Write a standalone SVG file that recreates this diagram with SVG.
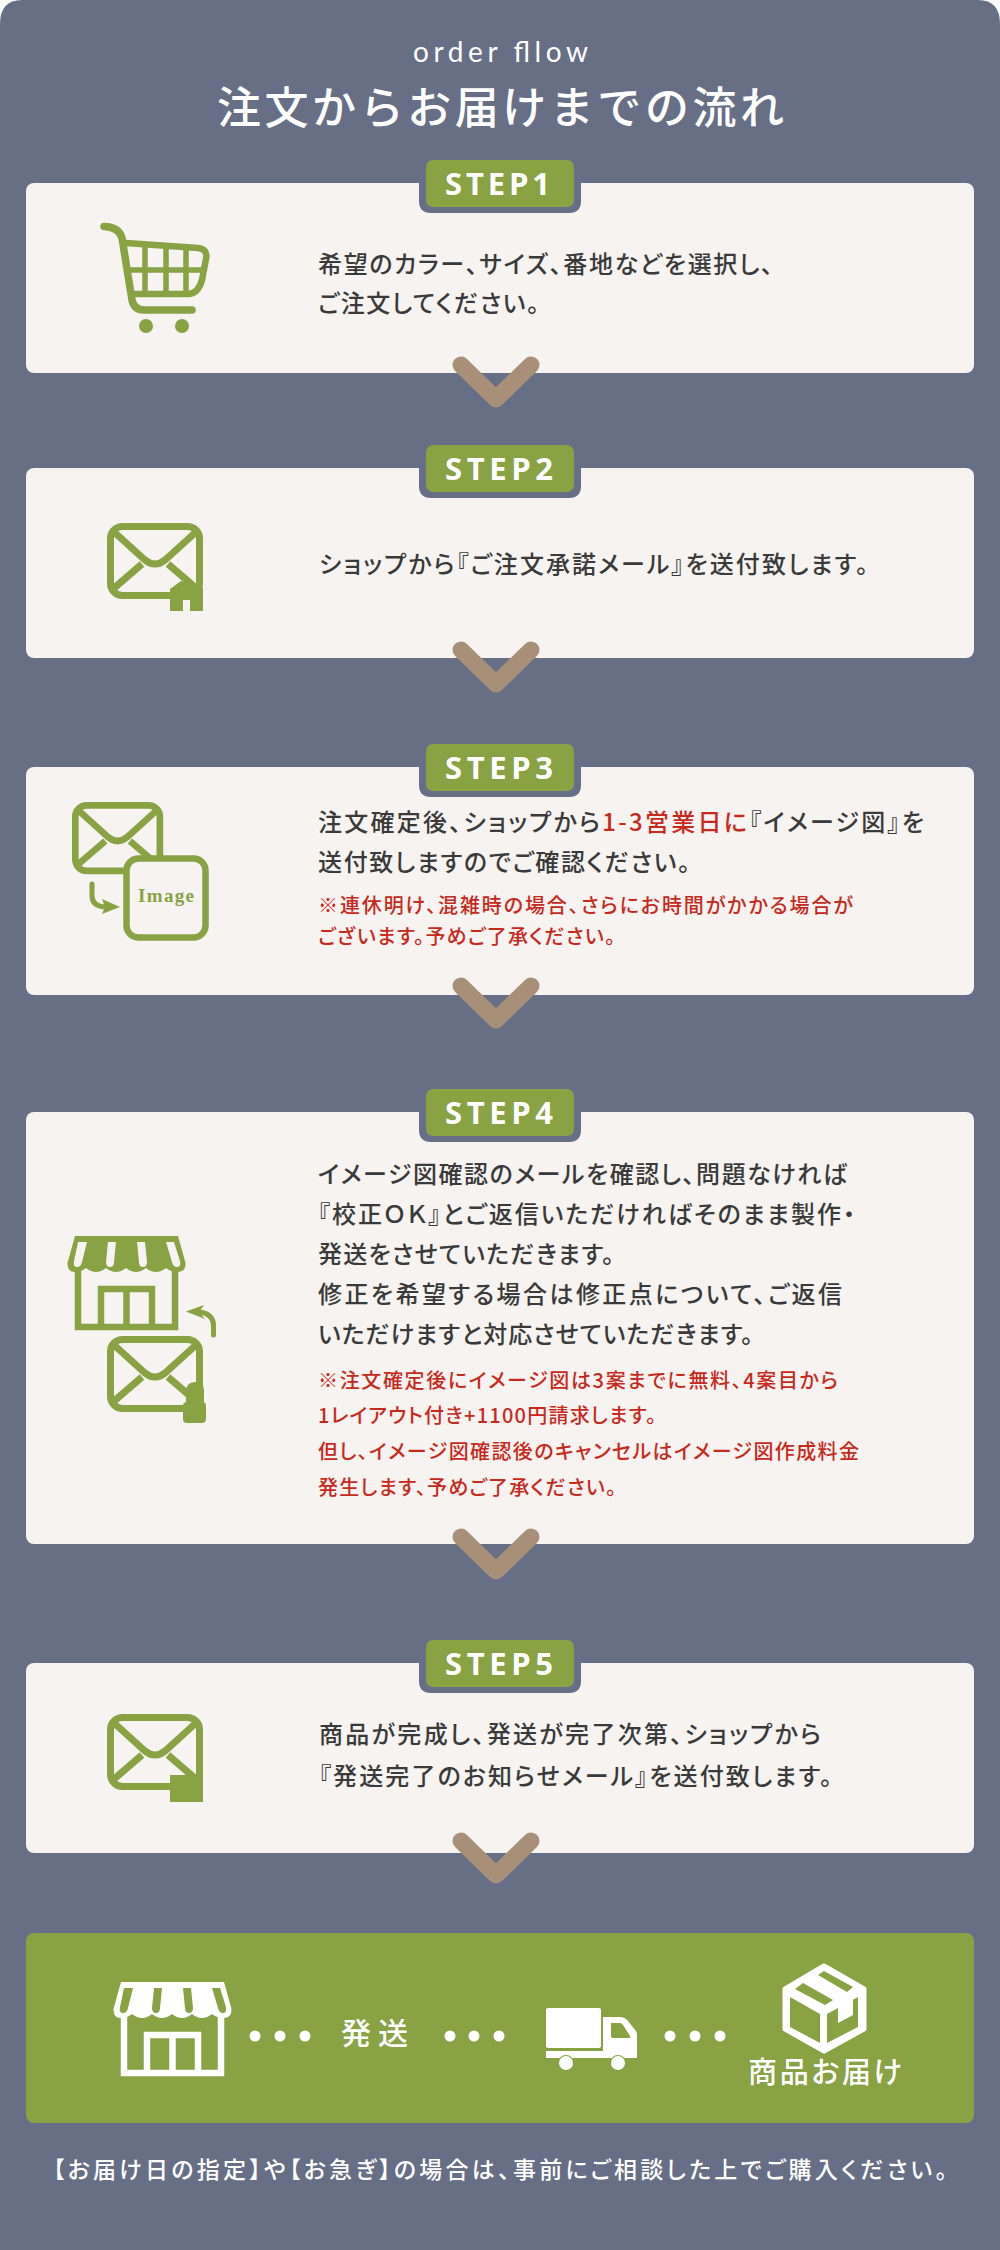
<svg xmlns="http://www.w3.org/2000/svg" xmlns:xlink="http://www.w3.org/1999/xlink" width="1000" height="2250" viewBox="0 0 1000 2250">
<style>
.t{font-family:"Noto Sans CJK JP","Noto Sans",sans-serif;font-feature-settings:"palt";font-size:24px;font-weight:500;fill:#3a3a3a}
.r{font-size:20px;fill:#c8291d}
.em{fill:#c8291d}
.w{fill:#fff}
.card{fill:#f6f3f0}
.badge{fill:#88a244}
.badgeo{fill:#676f87}
.st{font-family:"Open Sans","Noto Sans",sans-serif;font-weight:700;font-size:31px;fill:#fff}
.chev{fill:none;stroke:#a89078;stroke-width:17;stroke-linecap:round;stroke-linejoin:round}
.gs{fill:none;stroke:#88a244;stroke-linecap:round;stroke-linejoin:round}
.gf{fill:#88a244}
</style>
<defs>
<g id="env"><rect x="3.500" y="3.500" width="89" height="69" rx="12" fill="none" stroke="#88a244" stroke-width="7"/><path d="M6,8 L38,37 Q48,45 58,37 L90,8 M6,66 L35,41 M61,41 L90,66" fill="none" stroke="#88a244" stroke-width="7"/></g>
<g id="shop"><path fill-rule="evenodd" d="M8,0 L111,0 L118.500,27 Q119,36 110,36 Q104,36 99,32 Q89,40 79,32 Q69,40 59,32 Q49,40 39,32 Q29,40 19,32 Q14,36 8,36 Q0,36 .5,27 Z M11,6 L7,25 Q6,31 10,31 Q14,31 15,26 L20,6 Z M41,6 L39,26 Q39,31 43,31 Q47,31 47,26 L49,6 Z M70,6 L72,26 Q72,31 76,31 Q80,31 80,26 L78,6 Z M99,6 L105,26 Q106,31 110,31 Q114,31 113,25 L107,6 Z"/><path fill="none" stroke="currentColor" stroke-width="6.500" d="M11,33 V91 H108 V33 M34,91 V53 H85 V91 M59.500,53 V91"/></g>
</defs>
<rect width="1000" height="2250" fill="#fff"/>
<path d="M22,0 H978 Q1000,0 1000,24 V2250 H0 V24 Q0,0 22,0 Z" fill="#676f87"/>
<g id="title">
<text x="413" y="62" textLength="175" style="font-family:Lato,'Noto Sans',sans-serif;font-size:28px;fill:#fff">order fllow</text>
<text x="217" y="124" textLength="567" style="font-family:'Noto Sans CJK JP',sans-serif;font-size:44px;font-weight:500;fill:#fff">注文からお届けまでの流れ</text>
</g>

<g id="step1">
<rect class="card" x="26" y="183" width="948" height="190" rx="8"/>
<path class="badgeo" d="M419,183 H581 V201 Q581,213 569,213 H431 Q419,213 419,201 Z"/>
<rect class="badge" x="426" y="160" width="148" height="47" rx="7"/>
<text class="st" x="445" y="195" textLength="105">STEP1</text>
<g id="cart">
<path class="gs" stroke-width="7.500" d="M104,226.500 Q119,227 122,238 L132,300 Q134,310 144,310 L192,310"/>
<path class="gs" stroke-width="6.500" d="M126,243 L198,248 Q208,249 206,259 L202,280 Q198,294 188,294 L134,294"/>
<path class="gs" stroke-width="5.500" d="M145,244 V293 M166,246 V293 M186,247 V293 M129,270 H204"/>
<circle class="gf" cx="146" cy="326" r="7"/><circle class="gf" cx="182" cy="326" r="7"/>
</g>
<text class="t" x="318" y="273" textLength="455">希望のカラー、サイズ、番地などを選択し、</text>
<text class="t" x="318" y="312" textLength="221">ご注文してください。</text>
</g>

<g id="step2">
<rect class="card" x="26" y="468" width="948" height="190" rx="8"/>
<path class="badgeo" d="M419,468 H581 V486 Q581,498 569,498 H431 Q419,498 419,486 Z"/>
<rect class="badge" x="426" y="445" width="148" height="47" rx="7"/>
<text class="st" x="445" y="480" textLength="108">STEP2</text>
<use xlink:href="#env" href="#env" x="107" y="523"/>
<path class="gf" d="M170,589 L181,581 L203,588 V611 H190 V600 H183 V611 H170 Z"/>
<text class="t" x="319" y="573" textLength="549">ショップから『ご注文承諾メール』を送付致します。</text>
</g>

<g id="step3">
<rect class="card" x="26" y="767" width="948" height="228" rx="8"/>
<path class="badgeo" d="M419,767 H581 V785 Q581,797 569,797 H431 Q419,797 419,785 Z"/>
<rect class="badge" x="426" y="744" width="148" height="47" rx="7"/>
<text class="st" x="445" y="779" textLength="108">STEP3</text>
<use xlink:href="#env" href="#env" transform="translate(72,802) scale(.95)"/>
<rect x="126.500" y="858.500" width="79" height="79" rx="12" fill="#f6f3f0" stroke="#88a244" stroke-width="6.500"/>
<text x="138" y="902" textLength="56" style="font-family:'Liberation Serif',serif;font-weight:700;font-size:19px;fill:#88a244">Image</text>
<path class="gs" stroke-width="5" d="M92,884 V896 Q92,906 105,907"/>
<path class="gf" d="M120,907 L102,899 L105,907 L102,914 Z"/>
<text class="t" x="318" y="831" textLength="606">注文確定後、ショップから<tspan class="em">1-3営業日に</tspan>『イメージ図』を</text>
<text class="t" x="318" y="871" textLength="372">送付致しますのでご確認ください。</text>
<text class="t r" x="318" y="913" textLength="535">※連休明け、混雑時の場合、さらにお時間がかかる場合が</text>
<text class="t r" x="318" y="944" textLength="297">ございます。予めご了承ください。</text>
</g>

<g id="step4">
<rect class="card" x="26" y="1112" width="948" height="432" rx="8"/>
<path class="badgeo" d="M419,1112 H581 V1130 Q581,1142 569,1142 H431 Q419,1142 419,1130 Z"/>
<rect class="badge" x="426" y="1089" width="148" height="47" rx="7"/>
<text class="st" x="445" y="1124" textLength="108">STEP4</text>
<use xlink:href="#shop" href="#shop" x="67" y="1236" fill="#88a244" color="#88a244"/>
<use xlink:href="#env" href="#env" x="107" y="1336"/>
<path class="gf" d="M186,1404 V1392 Q186,1382 195,1382 Q203,1382 204,1390 V1404 Z"/>
<rect class="gf" x="183" y="1402" width="23" height="21" rx="4"/>
<path class="gs" stroke-width="5" d="M213.500,1335 V1325 Q213,1314 200,1312"/>
<path class="gf" d="M186,1311.500 L204,1305 L199,1312 L205,1319 Z"/>
<text class="t" x="318" y="1183" textLength="529">イメージ図確認のメールを確認し、問題なければ</text>
<text class="t" x="318" y="1223" textLength="537">『校正ＯＫ』とご返信いただければそのまま製作・</text>
<text class="t" x="318" y="1263" textLength="296">発送をさせていただきます。</text>
<text class="t" x="318" y="1303" textLength="524">修正を希望する場合は修正点について、ご返信</text>
<text class="t" x="318" y="1343" textLength="435">いただけますと対応させていただきます。</text>
<text class="t r" x="318" y="1388" textLength="520">※注文確定後にイメージ図は3案までに無料、4案目から</text>
<text class="t r" x="318" y="1423" textLength="338">1レイアウト付き+1100円請求します。</text>
<text class="t r" x="318" y="1459" textLength="541">但し、イメージ図確認後のキャンセルはイメージ図作成料金</text>
<text class="t r" x="318" y="1495" textLength="298">発生します、予めご了承ください。</text>
</g>

<g id="step5">
<rect class="card" x="26" y="1663" width="948" height="190" rx="8"/>
<path class="badgeo" d="M419,1663 H581 V1681 Q581,1693 569,1693 H431 Q419,1693 419,1681 Z"/>
<rect class="badge" x="426" y="1640" width="148" height="47" rx="7"/>
<text class="st" x="445" y="1675" textLength="108">STEP5</text>
<use xlink:href="#env" href="#env" x="107" y="1714"/>
<rect class="gf" x="170" y="1775" width="33" height="27"/>
<text class="t" x="319" y="1743" textLength="502">商品が完成し、発送が完了次第、ショップから</text>
<text class="t" x="319" y="1785" textLength="513">『発送完了のお知らせメール』を送付致します。</text>
</g>

<g id="connectors">
<path class="chev" d="M461,365 L496,399 L531,365"/>
<path class="chev" d="M461,650 L496,684 L531,650"/>
<path class="chev" d="M461,986 L496,1020 L531,986"/>
<path class="chev" d="M461,1537 L496,1571 L531,1537"/>
<path class="chev" d="M461,1841 L496,1875 L531,1841"/>
</g>

<g id="delivery">
<rect x="26" y="1933" width="948" height="190" rx="8" fill="#88a244"/>
<use xlink:href="#shop" href="#shop" x="113" y="1982" fill="#fff" color="#fff"/>
<g class="w"><circle cx="255" cy="2036" r="5.500"/><circle cx="280" cy="2036" r="5.500"/><circle cx="305" cy="2036" r="5.500"/><circle cx="450" cy="2036" r="5.500"/><circle cx="474" cy="2036" r="5.500"/><circle cx="499" cy="2036" r="5.500"/><circle cx="670" cy="2036" r="5.500"/><circle cx="695" cy="2036" r="5.500"/><circle cx="720" cy="2036" r="5.500"/></g>
<text class="t w" x="341" y="2044" textLength="67" style="font-size:30px;fill:#fff">発送</text>
<g id="truck"><rect class="w" x="546" y="2008" width="55" height="40" rx="2"/><path class="w" d="M603,2017 H620 Q625,2017 628,2021 L636,2031 Q637,2033 637,2035 V2058 H546 V2051 H603 Z"/><path fill="#88a244" d="M611,2023 H620 Q622,2023 623,2025 L630,2036 Q631,2038 629,2038 H613 Q611,2038 611,2036 Z"/><circle class="w" cx="566" cy="2063" r="7" stroke="#88a244" stroke-width="2" paint-order="stroke"/><circle class="w" cx="618" cy="2063" r="7" stroke="#88a244" stroke-width="2" paint-order="stroke"/></g>
<g id="box"><path class="w" stroke="#fff" stroke-width="5" stroke-linejoin="round" d="M824,1966 L864,1989 V2029 L824,2051 L785,2029 V1989 Z"/><path fill="#88a244" d="M790,1997 L820,2014 V2043 L790,2027 Z M827,2014 L858,1997 V2027 L827,2043 Z"/><path fill="#88a244" d="M795,1989 L803,1983 L833,2000 L825,2005 Z M818,1975 L824,1971 L853,1987 L847,1992 Z"/><path class="w" d="M838,2007 V2023 L853,2015 V1998 Z"/></g>
<text class="t w" x="748" y="2083" textLength="154" style="font-size:29px;fill:#fff">商品お届け</text>
</g>
<g id="footer"><text class="t w" x="53" y="2178" textLength="894" style="font-size:23px;fill:#fff">【お届け日の指定】や【お急ぎ】の場合は、事前にご相談した上でご購入ください。</text></g>
</svg>
